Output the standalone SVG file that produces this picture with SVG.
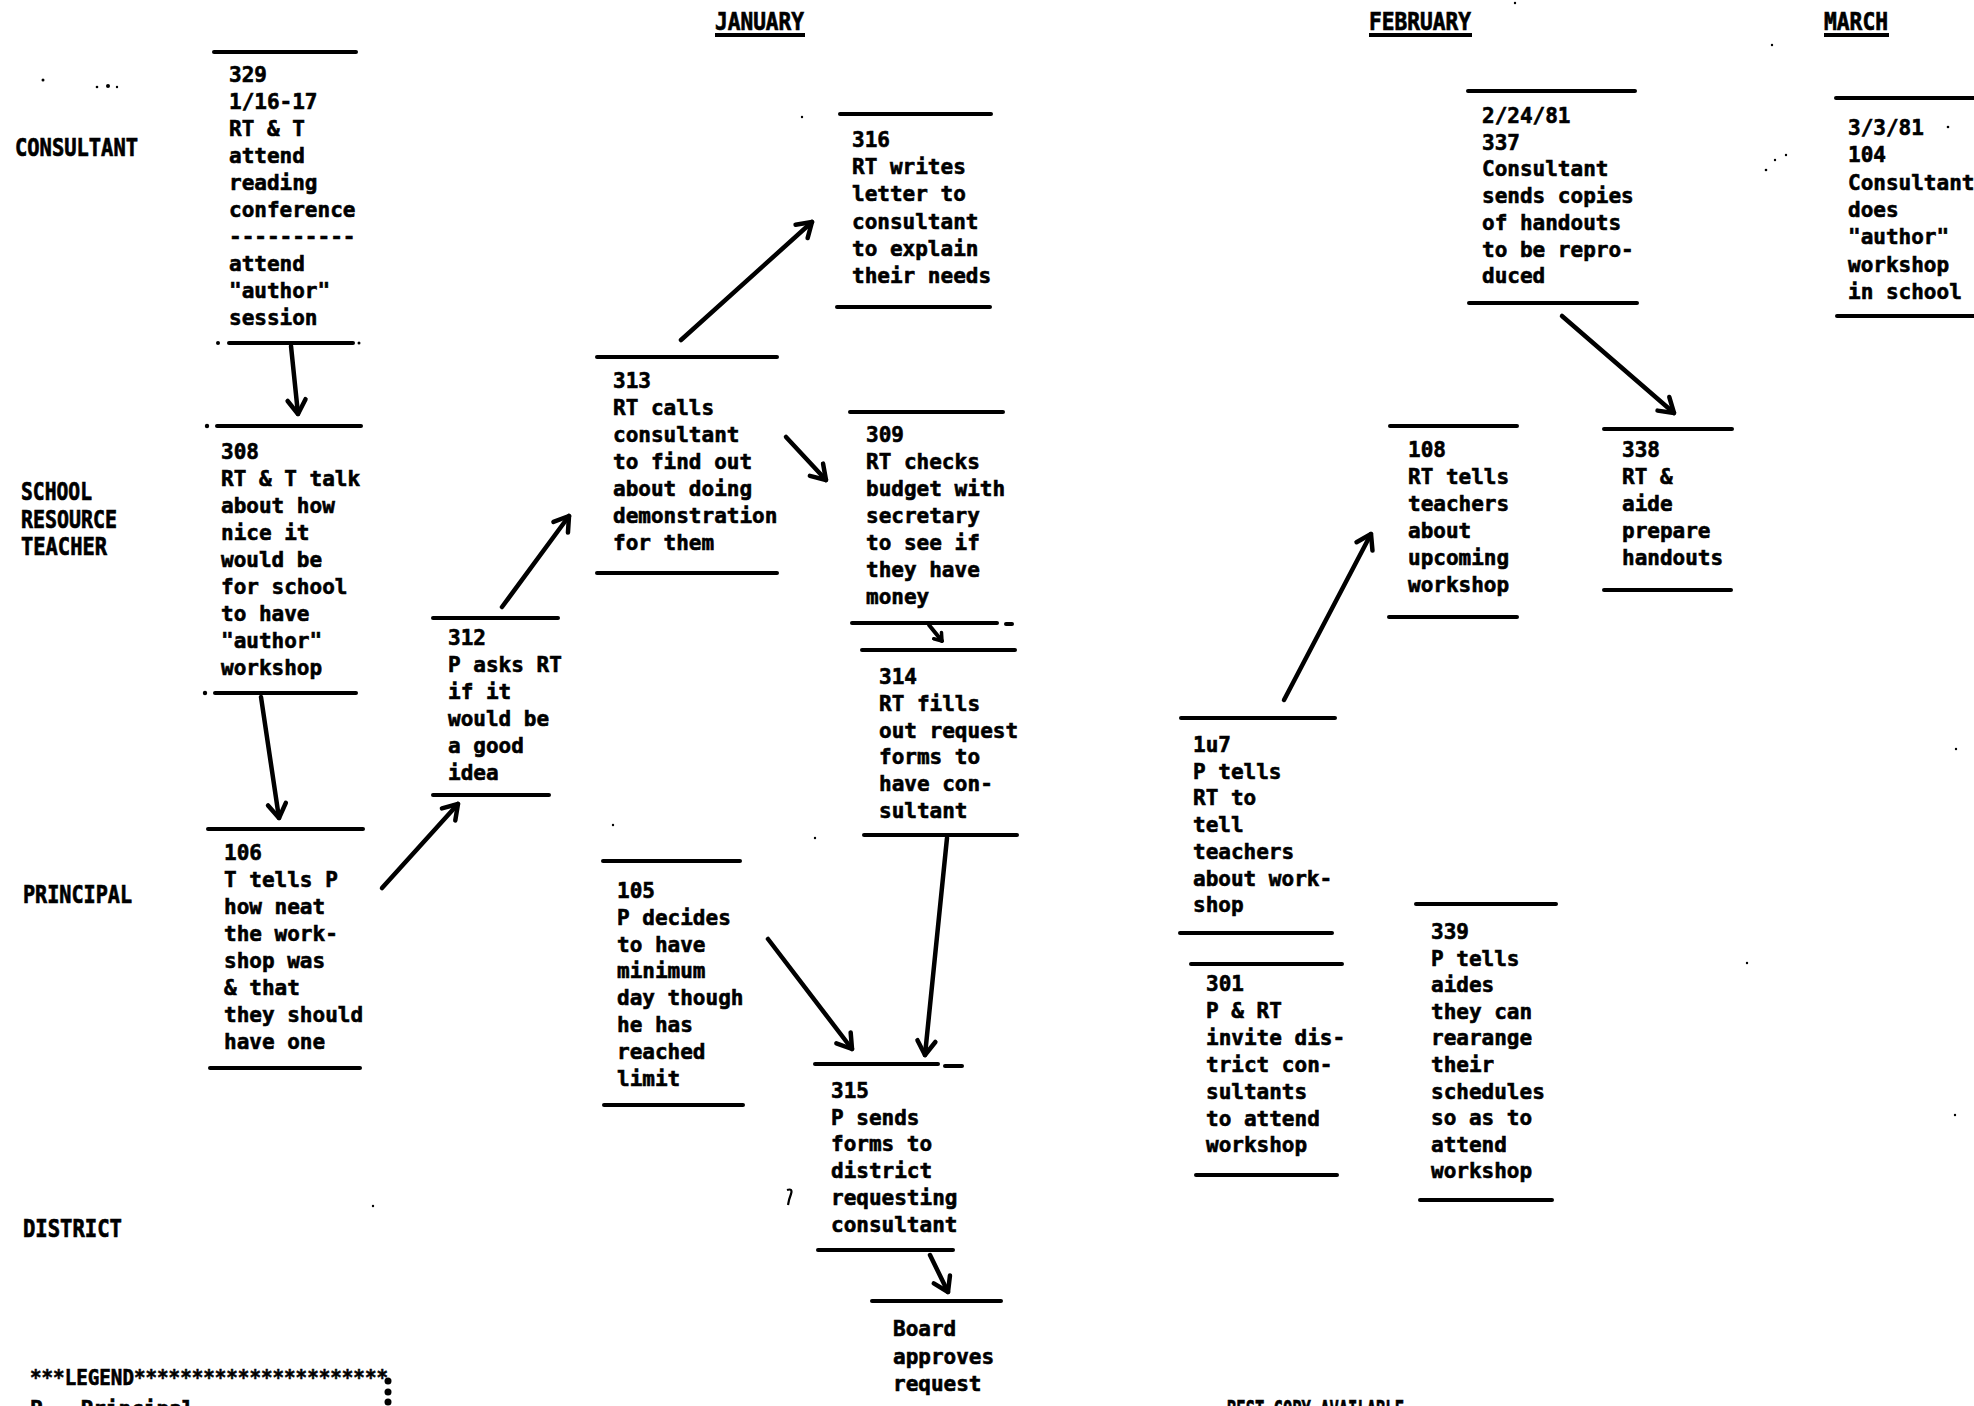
<svg xmlns="http://www.w3.org/2000/svg" width="1974" height="1406" viewBox="0 0 1974 1406">
<style>
.t{font-family:"DejaVu Sans Mono","Liberation Mono",monospace;font-weight:bold;font-size:21px;fill:#000;stroke:#000;stroke-width:0.6}
.lbl{font-family:"DejaVu Sans Mono","Liberation Mono",monospace;font-weight:bold;font-size:25px;fill:#000;stroke:#000;stroke-width:0.7}
.rule{stroke:#000;stroke-width:4;stroke-linecap:round;fill:none}
.ul{stroke:#000;stroke-width:4;fill:none}
.arr{stroke:#000;stroke-width:4.5;stroke-linecap:round;fill:none;marker-end:url(#ah)}
.arrs{stroke:#000;stroke-width:4;stroke-linecap:round;fill:none;marker-end:url(#ahs)}
.sp{fill:#000}
</style>
<defs>
<marker id="ah" markerUnits="userSpaceOnUse" viewBox="0 0 24 24" refX="20" refY="12" markerWidth="24" markerHeight="24" orient="auto">
<path d="M6,3 L20,12 L6,21" fill="none" stroke="#000" stroke-width="4.5" stroke-linecap="round" stroke-linejoin="round"/>
</marker>
<marker id="ahs" markerUnits="userSpaceOnUse" viewBox="0 0 14 14" refX="11" refY="7" markerWidth="14" markerHeight="14" orient="auto">
<path d="M4,2 L11,7 L4,12" fill="none" stroke="#000" stroke-width="3.5" stroke-linecap="round" stroke-linejoin="round"/>
</marker>
</defs>
<rect width="1974" height="1406" fill="#fff"/>

<g id="lanes">
<text class="lbl" x="15" y="156" textLength="123" lengthAdjust="spacingAndGlyphs">CONSULTANT</text>
<text class="lbl" x="21" y="500" textLength="71" lengthAdjust="spacingAndGlyphs">SCHOOL</text>
<text class="lbl" x="21" y="528" textLength="96" lengthAdjust="spacingAndGlyphs">RESOURCE</text>
<text class="lbl" x="21" y="555" textLength="86" lengthAdjust="spacingAndGlyphs">TEACHER</text>
<text class="lbl" x="23" y="903" textLength="109" lengthAdjust="spacingAndGlyphs">PRINCIPAL</text>
<text class="lbl" x="23" y="1237" textLength="99" lengthAdjust="spacingAndGlyphs">DISTRICT</text>
</g>

<g id="months">
<text class="lbl" x="715" y="30" textLength="89" lengthAdjust="spacingAndGlyphs">JANUARY</text>
<line class="ul" x1="715" y1="35" x2="805" y2="35"/>
<text class="lbl" x="1369" y="30" textLength="102" lengthAdjust="spacingAndGlyphs">FEBRUARY</text>
<line class="ul" x1="1369" y1="35" x2="1472" y2="35"/>
<text class="lbl" x="1824" y="30" textLength="64" lengthAdjust="spacingAndGlyphs">MARCH</text>
<line class="ul" x1="1824" y1="35" x2="1889" y2="35"/>
</g>

<g id="n329">
<line class="rule" x1="214" y1="52" x2="356" y2="52"/>
<text class="t" x="229" y="82"><tspan x="229">329</tspan><tspan x="229" dy="27">1/16-17</tspan><tspan x="229" dy="27">RT &amp; T</tspan><tspan x="229" dy="27">attend</tspan><tspan x="229" dy="27">reading</tspan><tspan x="229" dy="27">conference</tspan><tspan x="229" dy="27">----------</tspan><tspan x="229" dy="27">attend</tspan><tspan x="229" dy="27">"author"</tspan><tspan x="229" dy="27">session</tspan></text>
<circle class="sp" cx="218" cy="343" r="2"/>
<line class="rule" x1="229" y1="343" x2="353" y2="343"/>
<circle class="sp" cx="359" cy="343" r="1.5"/>
</g>

<g id="n308">
<circle class="sp" cx="207" cy="426" r="2.2"/>
<line class="rule" x1="217" y1="426" x2="361" y2="426"/>
<text class="t" x="221" y="459"><tspan x="221">308</tspan><tspan x="221" dy="27">RT &amp; T talk</tspan><tspan x="221" dy="27">about how</tspan><tspan x="221" dy="27">nice it</tspan><tspan x="221" dy="27">would be</tspan><tspan x="221" dy="27">for school</tspan><tspan x="221" dy="27">to have</tspan><tspan x="221" dy="27">"author"</tspan><tspan x="221" dy="27">workshop</tspan></text>
<circle class="sp" cx="205" cy="693" r="2.2"/>
<line class="rule" x1="215" y1="693" x2="356" y2="693"/>
</g>

<g id="n106">
<line class="rule" x1="208" y1="829" x2="363" y2="829"/>
<text class="t" x="224" y="860"><tspan x="224">106</tspan><tspan x="224" dy="27">T tells P</tspan><tspan x="224" dy="27">how neat</tspan><tspan x="224" dy="27">the work-</tspan><tspan x="224" dy="27">shop was</tspan><tspan x="224" dy="27">&amp; that</tspan><tspan x="224" dy="27">they should</tspan><tspan x="224" dy="27">have one</tspan></text>
<line class="rule" x1="210" y1="1068" x2="360" y2="1068"/>
</g>

<g id="n312">
<line class="rule" x1="433" y1="618" x2="558" y2="618"/>
<text class="t" x="448" y="645"><tspan x="448">312</tspan><tspan x="448" dy="27">P asks RT</tspan><tspan x="448" dy="27">if it</tspan><tspan x="448" dy="27">would be</tspan><tspan x="448" dy="27">a good</tspan><tspan x="448" dy="27">idea</tspan></text>
<line class="rule" x1="433" y1="795" x2="549" y2="795"/>
</g>

<g id="n313">
<line class="rule" x1="597" y1="357" x2="777" y2="357"/>
<text class="t" x="613" y="388"><tspan x="613">313</tspan><tspan x="613" dy="27">RT calls</tspan><tspan x="613" dy="27">consultant</tspan><tspan x="613" dy="27">to find out</tspan><tspan x="613" dy="27">about doing</tspan><tspan x="613" dy="27">demonstration</tspan><tspan x="613" dy="27">for them</tspan></text>
<line class="rule" x1="597" y1="573" x2="777" y2="573"/>
</g>

<g id="n316">
<line class="rule" x1="840" y1="114" x2="991" y2="114"/>
<text class="t" x="852" y="147"><tspan x="852">316</tspan><tspan x="852" dy="27.2">RT writes</tspan><tspan x="852" dy="27.2">letter to</tspan><tspan x="852" dy="27.2">consultant</tspan><tspan x="852" dy="27.2">to explain</tspan><tspan x="852" dy="27.2">their needs</tspan></text>
<line class="rule" x1="837" y1="307" x2="990" y2="307"/>
</g>

<g id="n309">
<line class="rule" x1="850" y1="412" x2="1003" y2="412"/>
<text class="t" x="866" y="442"><tspan x="866">309</tspan><tspan x="866" dy="27">RT checks</tspan><tspan x="866" dy="27">budget with</tspan><tspan x="866" dy="27">secretary</tspan><tspan x="866" dy="27">to see if</tspan><tspan x="866" dy="27">they have</tspan><tspan x="866" dy="27">money</tspan></text>
<line class="rule" x1="852" y1="623" x2="997" y2="623"/>
<line class="rule" x1="1006" y1="624" x2="1012" y2="624"/>
</g>

<g id="n314">
<line class="rule" x1="862" y1="650" x2="1015" y2="650"/>
<text class="t" x="879" y="684"><tspan x="879">314</tspan><tspan x="879" dy="26.8">RT fills</tspan><tspan x="879" dy="26.8">out request</tspan><tspan x="879" dy="26.8">forms to</tspan><tspan x="879" dy="26.8">have con-</tspan><tspan x="879" dy="26.8">sultant</tspan></text>
<line class="rule" x1="864" y1="835" x2="1017" y2="835"/>
</g>

<g id="n105">
<line class="rule" x1="603" y1="861" x2="740" y2="861"/>
<text class="t" x="617" y="898"><tspan x="617">105</tspan><tspan x="617" dy="26.8">P decides</tspan><tspan x="617" dy="26.8">to have</tspan><tspan x="617" dy="26.8">minimum</tspan><tspan x="617" dy="26.8">day though</tspan><tspan x="617" dy="26.8">he has</tspan><tspan x="617" dy="26.8">reached</tspan><tspan x="617" dy="26.8">limit</tspan></text>
<line class="rule" x1="604" y1="1105" x2="743" y2="1105"/>
</g>

<g id="n315">
<line class="rule" x1="815" y1="1064" x2="938" y2="1064"/>
<line class="rule" x1="945" y1="1066" x2="962" y2="1066"/>
<text class="t" x="831" y="1098"><tspan x="831">315</tspan><tspan x="831" dy="26.7">P sends</tspan><tspan x="831" dy="26.7">forms to</tspan><tspan x="831" dy="26.7">district</tspan><tspan x="831" dy="26.7">requesting</tspan><tspan x="831" dy="26.7">consultant</tspan></text>
<line class="rule" x1="818" y1="1250" x2="953" y2="1250"/>
</g>

<g id="nBoard">
<line class="rule" x1="872" y1="1301" x2="1001" y2="1301"/>
<text class="t" x="893" y="1336"><tspan x="893">Board</tspan><tspan x="893" dy="27.5">approves</tspan><tspan x="893" dy="27.5">request</tspan></text>
</g>

<g id="n337">
<line class="rule" x1="1468" y1="91" x2="1635" y2="91"/>
<text class="t" x="1482" y="123"><tspan x="1482">2/24/81</tspan><tspan x="1482" dy="26.7">337</tspan><tspan x="1482" dy="26.7">Consultant</tspan><tspan x="1482" dy="26.7">sends copies</tspan><tspan x="1482" dy="26.7">of handouts</tspan><tspan x="1482" dy="26.7">to be repro-</tspan><tspan x="1482" dy="26.7">duced</tspan></text>
<line class="rule" x1="1469" y1="303" x2="1637" y2="303"/>
</g>

<g id="n104">
<line class="rule" x1="1836" y1="98" x2="1974" y2="98"/>
<text class="t" x="1848" y="135"><tspan x="1848">3/3/81</tspan><tspan x="1848" dy="27.3">104</tspan><tspan x="1848" dy="27.3">Consultant</tspan><tspan x="1848" dy="27.3">does</tspan><tspan x="1848" dy="27.3">"author"</tspan><tspan x="1848" dy="27.3">workshop</tspan><tspan x="1848" dy="27.3">in school</tspan></text>
<line class="rule" x1="1837" y1="316" x2="1974" y2="316"/>
</g>

<g id="n108">
<line class="rule" x1="1390" y1="426" x2="1517" y2="426"/>
<text class="t" x="1408" y="457"><tspan x="1408">108</tspan><tspan x="1408" dy="27">RT tells</tspan><tspan x="1408" dy="27">teachers</tspan><tspan x="1408" dy="27">about</tspan><tspan x="1408" dy="27">upcoming</tspan><tspan x="1408" dy="27">workshop</tspan></text>
<line class="rule" x1="1389" y1="617" x2="1517" y2="617"/>
</g>

<g id="n338">
<line class="rule" x1="1604" y1="429" x2="1732" y2="429"/>
<text class="t" x="1622" y="457"><tspan x="1622">338</tspan><tspan x="1622" dy="27">RT &amp;</tspan><tspan x="1622" dy="27">aide</tspan><tspan x="1622" dy="27">prepare</tspan><tspan x="1622" dy="27">handouts</tspan></text>
<line class="rule" x1="1604" y1="590" x2="1731" y2="590"/>
</g>

<g id="n107">
<line class="rule" x1="1181" y1="718" x2="1335" y2="718"/>
<text class="t" x="1193" y="752"><tspan x="1193">1u7</tspan><tspan x="1193" dy="26.7">P tells</tspan><tspan x="1193" dy="26.7">RT to</tspan><tspan x="1193" dy="26.7">tell</tspan><tspan x="1193" dy="26.7">teachers</tspan><tspan x="1193" dy="26.7">about work-</tspan><tspan x="1193" dy="26.7">shop</tspan></text>
<line class="rule" x1="1180" y1="933" x2="1332" y2="933"/>
</g>

<g id="n301">
<line class="rule" x1="1191" y1="964" x2="1342" y2="964"/>
<text class="t" x="1206" y="991"><tspan x="1206">301</tspan><tspan x="1206" dy="26.9">P &amp; RT</tspan><tspan x="1206" dy="26.9">invite dis-</tspan><tspan x="1206" dy="26.9">trict con-</tspan><tspan x="1206" dy="26.9">sultants</tspan><tspan x="1206" dy="26.9">to attend</tspan><tspan x="1206" dy="26.9">workshop</tspan></text>
<line class="rule" x1="1196" y1="1175" x2="1337" y2="1175"/>
</g>

<g id="n339">
<line class="rule" x1="1416" y1="904" x2="1556" y2="904"/>
<text class="t" x="1431" y="939"><tspan x="1431">339</tspan><tspan x="1431" dy="26.6">P tells</tspan><tspan x="1431" dy="26.6">aides</tspan><tspan x="1431" dy="26.6">they can</tspan><tspan x="1431" dy="26.6">rearange</tspan><tspan x="1431" dy="26.6">their</tspan><tspan x="1431" dy="26.6">schedules</tspan><tspan x="1431" dy="26.6">so as to</tspan><tspan x="1431" dy="26.6">attend</tspan><tspan x="1431" dy="26.6">workshop</tspan></text>
<line class="rule" x1="1420" y1="1200" x2="1552" y2="1200"/>
</g>

<g id="connectors">
<path class="arr" d="M291,346 L298,414"/>
<path class="arr" d="M261,697 L279,818"/>
<path class="arr" d="M382,888 L458,804"/>
<path class="arr" d="M502,607 L569,516"/>
<path class="arr" d="M681,340 L812,222"/>
<path class="arr" d="M786,437 L826,480"/>
<path class="arrs" d="M929,625 L942,641"/>
<path class="arr" d="M947,838 L925,1055"/>
<path class="arr" d="M768,939 L852,1049"/>
<path class="arr" d="M930,1255 L948,1292"/>
<path class="arr" d="M1284,700 L1371,534"/>
<path class="arr" d="M1562,316 L1674,413"/>
</g>

<g id="legend">
<text class="t" x="30" y="1385" textLength="358" lengthAdjust="spacingAndGlyphs">***LEGEND**********************</text>
<circle class="sp" cx="388" cy="1381" r="3.5"/>
<circle class="sp" cx="388" cy="1392" r="3.5"/>
<circle class="sp" cx="388" cy="1402" r="3.5"/>
<text class="t" x="30" y="1416">P - Principal</text>
</g>

<g id="footer">
<text class="lbl" x="1227" y="1418" textLength="177" lengthAdjust="spacingAndGlyphs">BEST COPY AVAILABLE</text>
</g>

<g id="specks">
<circle class="sp" cx="43" cy="80" r="1.5"/>
<circle class="sp" cx="97" cy="87" r="1.3"/>
<circle class="sp" cx="108" cy="86" r="2"/>
<circle class="sp" cx="117" cy="87" r="1.2"/>
<circle class="sp" cx="802" cy="117" r="1.2"/>
<circle class="sp" cx="1515" cy="3" r="1.2"/>
<circle class="sp" cx="1772" cy="45" r="1.2"/>
<circle class="sp" cx="1766" cy="170" r="1.3"/>
<circle class="sp" cx="1775" cy="160" r="1.2"/>
<circle class="sp" cx="1786" cy="155" r="1.2"/>
<circle class="sp" cx="1948" cy="127" r="1.3"/>
<circle class="sp" cx="613" cy="825" r="1.2"/>
<circle class="sp" cx="815" cy="838" r="1.2"/>
<circle class="sp" cx="373" cy="1206" r="1.2"/>
<circle class="sp" cx="1747" cy="963" r="1.2"/>
<circle class="sp" cx="1956" cy="749" r="1.2"/>
<circle class="sp" cx="1955" cy="1115" r="1.2"/>
<path d="M787,1190 q6,-2 4,4 q-2,5 -3,11" stroke="#000" stroke-width="2.2" fill="none"/>
</g>
</svg>
